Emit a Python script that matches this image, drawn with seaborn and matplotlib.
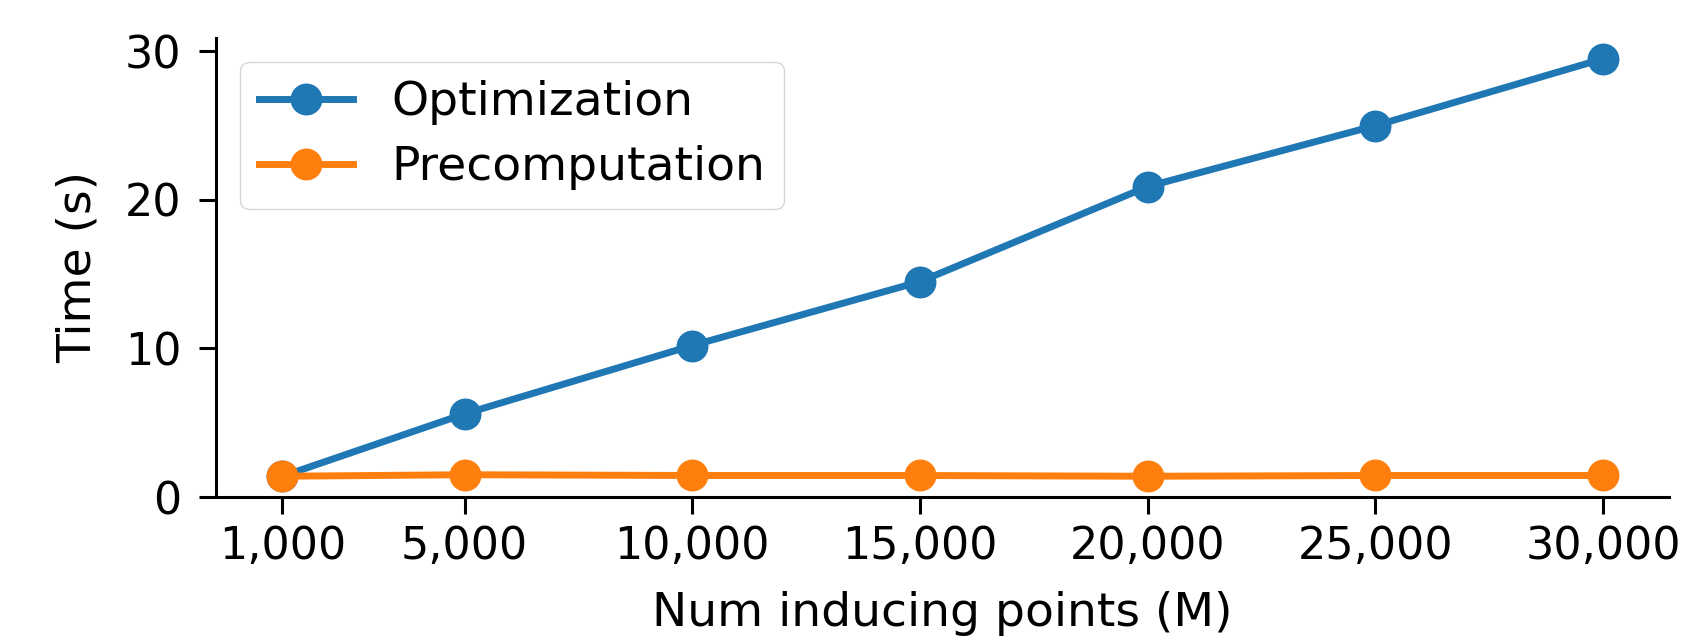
import pandas as pd
import seaborn as sns
import matplotlib.pyplot as plt
from matplotlib.ticker import StrMethodFormatter

# ---- Data ----
num_inducing = [1000, 5000, 10000, 15000, 20000, 25000, 30000]
optimization = [1.4, 5.6, 10.2, 14.5, 20.9, 25.0, 29.5]
precomputation = [1.4, 1.5, 1.45, 1.45, 1.4, 1.45, 1.45]

df = pd.concat([
    pd.DataFrame({"M": num_inducing, "Time": optimization, "Stage": "Optimization"}),
    pd.DataFrame({"M": num_inducing, "Time": precomputation, "Stage": "Precomputation"}),
])

plt.rcParams["font.family"] = ["DejaVu Sans"]
plt.rcParams["font.size"] = 32

fig, ax = plt.subplots(figsize=(16.91, 6.43), dpi=100)
fig.subplots_adjust(left=0.128, right=0.987, bottom=0.227, top=0.941)

palette = {"Optimization": "#1f77b4", "Precomputation": "#ff7f0e"}
sns.lineplot(
    data=df, x="M", y="Time", hue="Stage", palette=palette,
    marker="o", markersize=23, markeredgewidth=0, linewidth=5, ax=ax
)

ax.set_xticks(num_inducing)
ax.xaxis.set_major_formatter(StrMethodFormatter("{x:,.0f}"))
ax.set_yticks([0, 10, 20, 30])
ax.set_ylim(bottom=0)
ax.set_xlabel("Num inducing points (M)", fontsize=34)
ax.set_ylabel("Time (s)", fontsize=34)
ax.xaxis.set_label_coords(0.5, -0.205)
ax.yaxis.set_label_coords(-0.080, 0.5)
ax.tick_params(width=2.2, length=12)
ax.tick_params(axis="x", pad=8)
ax.tick_params(axis="y", pad=13)
for s in ["left", "bottom"]:
    ax.spines[s].set_linewidth(2.2)
sns.despine(ax=ax)

handles, labels = ax.get_legend_handles_labels()
ax.legend(handles, labels, loc="upper left", fontsize=34, handlelength=2.0,
          labelspacing=0.42, borderpad=0.4)

fig.savefig("out.png", dpi=100)
